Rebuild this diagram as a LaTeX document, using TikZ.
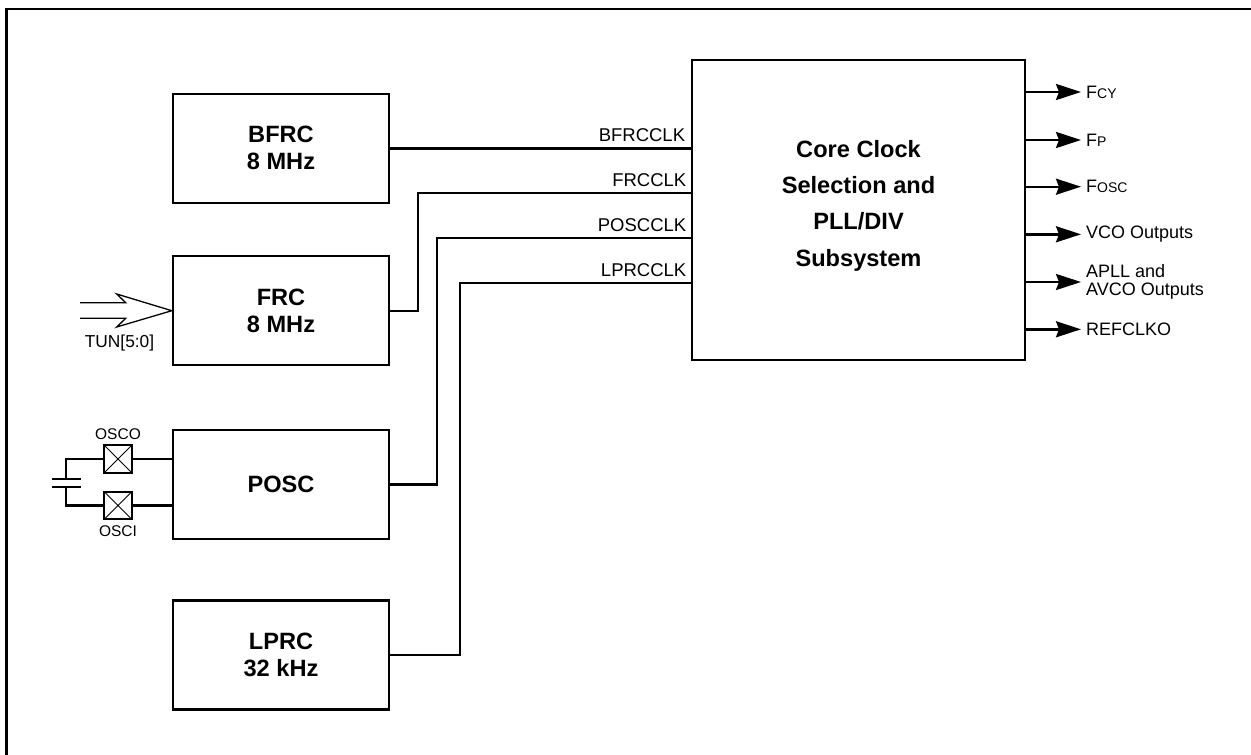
\documentclass[tikz,border=0pt]{standalone}
\usepackage{fontspec}
\setmainfont{Liberation Sans}
\usepackage{xcolor}
\usetikzlibrary{arrows.meta, positioning}
\newcommand{\smallcap}[1]{{\fontsize{14}{14}\selectfont #1}}

\begin{document}
\begin{tikzpicture}[x=1pt, y=-1pt, every node/.style={font=\fontsize{18}{18.5}\selectfont}]
  \tikzstyle{block}=[rectangle, draw=black, line width=2.4pt, minimum width=216pt, minimum height=109pt, inner sep=0pt, align=center, font=\fontsize{23.6}{27}\selectfont\bfseries]
  \tikzstyle{pad}=[rectangle, draw=black, line width=2.4pt, minimum size=27.5pt, inner sep=0pt, path picture={\draw[line width=0.8pt] (path picture bounding box.south west) -- (path picture bounding box.north east) (path picture bounding box.north west) -- (path picture bounding box.south east);}]
  \tikzstyle{wire}=[line width=2.4pt]
  \tikzstyle{wirelabel}=[pos=1, anchor=south east, inner xsep=4.5pt, inner ysep=5pt, font=\fontsize{18.5}{18.5}\selectfont]
  \tikzstyle{outarrow}=[-{Stealth[length=25pt, width=16pt, inset=3pt]}, line width=2.4pt, shorten >=5pt]
  \tikzstyle{outlabel}=[anchor=west, inner sep=0pt, align=left]
  \tikzstyle{padlabel}=[font=\fontsize{15.5}{15.5}\selectfont, inner sep=0pt]

  \useasboundingbox (0,0) rectangle (1251,755);
  \draw[line width=2.4pt] (6.5,755) -- (6.5,9) -- (1251,9);

  \node[block] (bfrc) at (281,148.3) {BFRC\\8 MHz};
  \node[block, below=51pt of bfrc] (frc) {FRC\\8 MHz};
  \node[block, below=62.5pt of frc] (posc) {POSC};
  \node[block, below=59pt of posc] (lprc) {LPRC\\32 kHz};
  \node[block, minimum width=333pt, minimum height=300pt] (core) at (858.5,210) {};
  \node[font=\fontsize{23.6}{36.4}\selectfont\bfseries, align=center, inner sep=0pt] (corelabel) at (858.5,205.5) {Core Clock\\Selection and\\PLL/DIV\\Subsystem};

  \coordinate (frcin) at (692,192.7);
  \coordinate (poscin) at (692,237.7);
  \coordinate (lprcin) at (692,283);
  \draw[wire] (bfrc.east) -- (bfrc.east -| core.west) node[wirelabel]{BFRCCLK};
  \draw[wire] (frc.east) -- ++(27.5,0) |- (frcin) node[wirelabel]{FRCCLK};
  \draw[wire] (posc.east) -- ++(47,0) |- (poscin) node[wirelabel]{POSCCLK};
  \draw[wire] (lprc.east) -- ++(70,0) |- (lprcin) node[wirelabel]{LPRCCLK};

  \node[outlabel] (fcy) at (1086,92) {F\smallcap{CY}};
  \node[outlabel] (fp) at (1086,140) {F\smallcap{P}};
  \node[outlabel] (fosc) at (1086,186.7) {F\smallcap{OSC}};
  \node[outlabel] (vco) at (1086,234.3) {VCO Outputs};
  \node[outlabel] (apll) at (1086,282) {APLL and\\AVCO Outputs};
  \node[outlabel] (refclko) at (1086,329.3) {REFCLKO};
  \draw[outarrow] (core.east |- fcy.west) -- (fcy.west);
  \draw[outarrow] (core.east |- fp.west) -- (fp.west);
  \draw[outarrow] (core.east |- fosc.west) -- (fosc.west);
  \draw[outarrow] (core.east |- vco.west) -- (vco.west);
  \draw[outarrow] (core.east |- apll.west) -- (apll.west);
  \draw[outarrow] (core.east |- refclko.west) -- (refclko.west);

  \coordinate (tuntop) at (80,302.7);
  \coordinate (tunbot) at (80,318.3);
  \draw[line width=1.3pt, line join=miter] (tuntop) -- (125.7,302.7) -- (116.7,294) -- (frc.west) -- (116.7,327) -- (125.7,318.3) -- (tunbot);
  \node[font=\fontsize{17.3}{17.3}\selectfont, inner sep=0pt] (tun) at (119.5,343) {TUN[5:0]};

  \node[pad] (osco) at (118,459) {};
  \node[pad] (osci) at (118,505.5) {};
  \node[padlabel, above=4.5pt of osco] (oscolabel) {OSCO};
  \node[padlabel, below=5.5pt of osci] (oscilabel) {OSCI};
  \draw[wire] (osco.east) -- (osco.east -| posc.west);
  \draw[wire] (osci.east) -- (osci.east -| posc.west);

  \coordinate (capa) at (65.7,479);
  \coordinate (capb) at (65.7,486.7);
  \draw[wire] (osco.west) -| (capa);
  \draw[wire] (osci.west) -| (capb);
  \draw[wire] (52,479) -- (81,479);
  \draw[wire] (52,486.7) -- (81,486.7);
\end{tikzpicture}
\end{document}
